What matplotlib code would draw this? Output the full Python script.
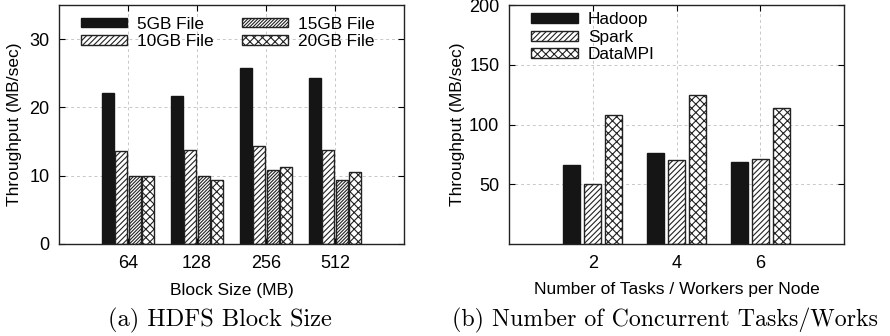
import matplotlib
matplotlib.use("Agg")
import matplotlib.pyplot as plt
import numpy as np

plt.rcParams['font.family'] = ['Liberation Sans', 'DejaVu Sans']
plt.rcParams['hatch.linewidth'] = 0.8

# Panel (a)
block_sizes = ['64', '128', '256', '512']
a_series = ['5GB File', '10GB File', '15GB File', '20GB File']
a_5gb = [22.1, 21.7, 25.8, 24.3]
a_10gb = [13.6, 13.7, 14.4, 13.8]
a_15gb = [9.9, 10.0, 10.9, 9.4]
a_20gb = [9.9, 9.4, 11.3, 10.6]

# Panel (b)
tasks = ['2', '4', '6']
b_series = ['Hadoop', 'Spark', 'DataMPI']
b_hadoop = [66, 76, 69]
b_spark = [50, 70, 71]
b_datampi = [108, 125, 114]

W, H = 890, 336
fig = plt.figure(figsize=(W / 100, H / 100), dpi=100)

def px_axes(x0, y0, x1, y1):
    return fig.add_axes([x0 / W, (H - y1) / H, (x1 - x0) / W, (y1 - y0) / H])

axa = px_axes(59, 5, 404, 244)
axb = px_axes(509, 5, 844, 244)

LFS = 12.5   # axis labels
TFS = 13     # tick labels
GFS = 12.4   # legend

def style(ax):
    ax.set_axisbelow(True)
    ax.grid(True, linestyle=(0, (3, 3)), color='#c8c8c8', linewidth=0.7)
    ax.tick_params(direction='in', length=4, top=True, right=True,
                   labelsize=TFS, width=0.8, pad=7)
    ax.tick_params(axis='x', pad=8)
    for s in ax.spines.values():
        s.set_linewidth(1.0)
        s.set_color('#222222')

def bar_style(i):
    return [dict(color='#151515', edgecolor='#151515'),
            dict(color='white', edgecolor='#222222', hatch='//////'),
            dict(color='white', edgecolor='#222222', hatch='//////////'),
            dict(color='white', edgecolor='#222222', hatch='xxxx')][i]

# ---- (a)
xa = np.arange(len(block_sizes))
step, bw = 0.193, 0.17
for i, (name, vals) in enumerate(zip(a_series, [a_5gb, a_10gb, a_15gb, a_20gb])):
    axa.bar(xa + (i - 1.5) * step, vals, width=bw, linewidth=1.0,
            label=name, **bar_style(i))
axa.set_xlim(-1, 4)
axa.set_ylim(0, 35)
axa.set_yticks([0, 10, 20, 30])
axa.set_xticks(xa)
axa.set_xticklabels(block_sizes, fontsize=10.6)
style(axa)
axa.set_xlabel('Block Size (MB)', fontsize=LFS, labelpad=8)
axa.set_ylabel('Throughput (MB/sec)', fontsize=LFS, labelpad=5)
axa.legend(ncol=2, loc='upper left', bbox_to_anchor=(0.03, 0.998), frameon=False,
           fontsize=GFS, handlelength=2.7, handleheight=0.5,
           handletextpad=0.6, columnspacing=1.6, labelspacing=0.12,
           borderaxespad=0.25)

# ---- (b)
xb = np.arange(len(tasks))
step, bw = 0.25, 0.2
b_styles = [bar_style(0), bar_style(1), dict(color='white', edgecolor='#222222', hatch='xxxx')]
for i, (name, vals) in enumerate(zip(b_series, [b_hadoop, b_spark, b_datampi])):
    axb.bar(xb + (i - 1) * step, vals, width=bw, linewidth=1.0,
            label=name, **b_styles[i])
axb.set_xlim(-1, 3)
axb.set_ylim(0, 200)
axb.set_yticks([50, 100, 150, 200])
axb.set_xticks(xb)
axb.set_xticklabels(tasks, fontsize=TFS)
style(axb)
axb.set_xlabel('Number of Tasks / Workers per Node', fontsize=LFS, labelpad=7)
axb.set_ylabel('Throughput (MB/sec)', fontsize=LFS, labelpad=3)
axb.legend(loc='upper left', bbox_to_anchor=(0.035, 1.012), frameon=False,
           fontsize=GFS, handlelength=2.7, handleheight=0.5,
           handletextpad=0.6, labelspacing=0.14, borderaxespad=0.2)

# captions
fig.text(220 / W, (H - 320) / H, '(a) HDFS Block Size', family='cmr10',
         fontsize=17.6, ha='center', va='center')
fig.text(452 / W, (H - 320) / H, '(b) Number of Concurrent Tasks/Works',
         family='cmr10', fontsize=17.2, ha='left', va='center')

fig.savefig('out.png', dpi=100)
